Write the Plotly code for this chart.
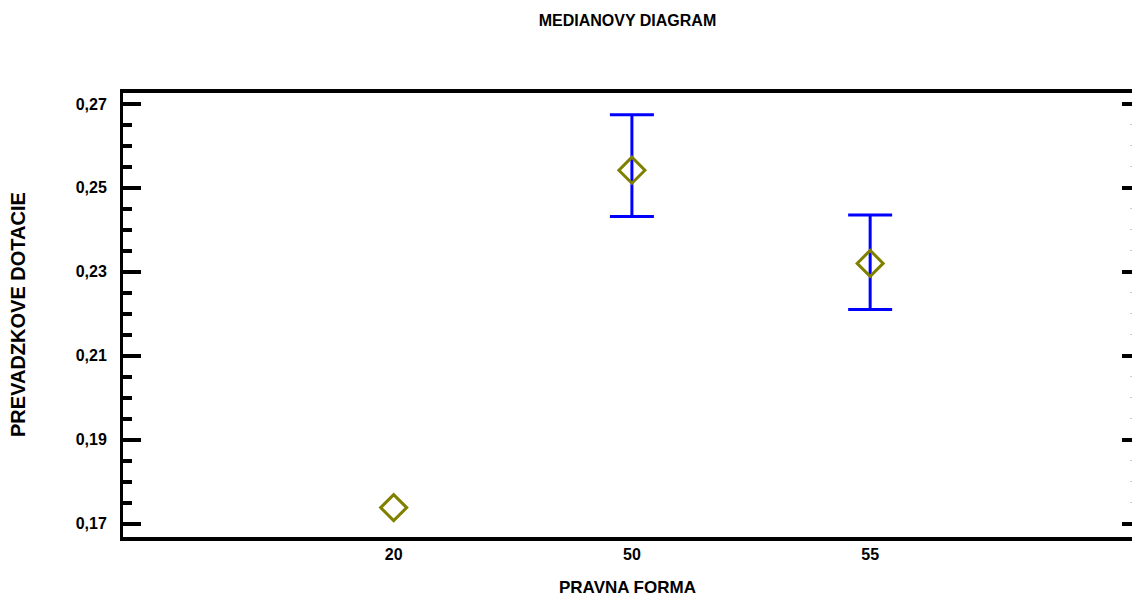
import plotly.graph_objects as go

categories = ["20", "50", "55"]
medians = [0.1738, 0.2542, 0.2320]
err_categories = ["50", "55"]
err_medians = [0.2542, 0.2320]
err_lower = [0.2432, 0.2210]
err_upper = [0.2674, 0.2435]

title_text = "MEDIANOVY DIAGRAM"
x_title = "PRAVNA FORMA"
y_title = "PREVADZKOVE DOTACIE"

FONT = "Liberation Sans, Arial, sans-serif"
BLUE = "#0000ff"
OLIVE = "#808000"

fig = go.Figure()

fig.add_trace(go.Scatter(
    x=err_categories, y=err_medians, mode="markers",
    marker=dict(size=1, color="rgba(0,0,0,0)"),
    error_y=dict(
        type="data", symmetric=False,
        array=[u - m for u, m in zip(err_upper, err_medians)],
        arrayminus=[m - l for m, l in zip(err_medians, err_lower)],
        color=BLUE, thickness=3, width=22,
    ),
    showlegend=False, hoverinfo="skip",
))

fig.add_trace(go.Scatter(
    x=categories, y=medians, mode="markers",
    marker=dict(symbol="diamond-open", size=20, color=OLIVE,
                line=dict(width=3, color=OLIVE)),
    showlegend=False,
))

# invisible companion trace so the right-hand tick axis is drawn
fig.add_trace(go.Scatter(
    x=categories, y=medians, mode="markers", yaxis="y2",
    marker=dict(size=1, opacity=0), showlegend=False, hoverinfo="skip",
))

yrange = [0.1668, 0.2726]

fig.update_layout(
    width=1132, height=596,
    margin=dict(l=123, r=0, t=93, b=59, autoexpand=False),
    paper_bgcolor="white", plot_bgcolor="white",
    separators=", ",
    font=dict(family=FONT, size=16, color="black", weight="bold"),
    title=dict(text=title_text, x=0.5, xref="paper", y=1 - 20 / 596,
               yref="container", yanchor="middle", xanchor="center",
               font=dict(family=FONT, size=16, color="black", weight="bold")),
    xaxis=dict(
        type="category", categoryorder="array", categoryarray=categories,
        range=[-1.136, 3.099],
        showline=True, linewidth=4, linecolor="black", mirror=True,
        ticks="", showgrid=False, zeroline=False,
        tickfont=dict(family=FONT, size=16, color="black", weight="bold"),
        ticklabelstandoff=0,
    ),
    yaxis=dict(
        range=yrange, tick0=0.17, dtick=0.02, tickformat=".2f",
        showline=True, linewidth=3, linecolor="black",
        ticks="inside", ticklen=18, tickwidth=4, tickcolor="black",
        minor=dict(ticks="inside", ticklen=9, tickwidth=4, tickcolor="black",
                   dtick=0.005, tick0=0.17, showgrid=False),
        showgrid=False, zeroline=False,
        tickfont=dict(family=FONT, size=16, color="black", weight="bold"),
        ticklabelstandoff=10,
    ),
    yaxis2=dict(
        overlaying="y", side="right", range=yrange, tick0=0.17, dtick=0.02,
        showline=False, ticks="inside", ticklen=10, tickwidth=4, tickcolor="black",
        showticklabels=False, showgrid=False, zeroline=False,
        minor=dict(ticks="inside", ticklen=2, tickwidth=1, tickcolor="#cccccc",
                   dtick=0.005, tick0=0.17, showgrid=False),
    ),
    annotations=[
        dict(text=x_title, xref="paper", yref="paper", x=0.5, y=-(587 - 537) / 444,
             xanchor="center", yanchor="middle", showarrow=False,
             font=dict(family=FONT, size=17, color="black", weight="bold")),
        dict(text=y_title, xref="paper", yref="paper", x=-(123 - 18) / 1009, y=0.5,
             xanchor="center", yanchor="middle", textangle=-90, showarrow=False,
             font=dict(family=FONT, size=20, color="black", weight="bold")),
    ],
)

fig.write_html("out.html", config={"displayModeBar": False},
               post_script="document.body.style.margin='0';document.body.style.overflow='hidden';")
